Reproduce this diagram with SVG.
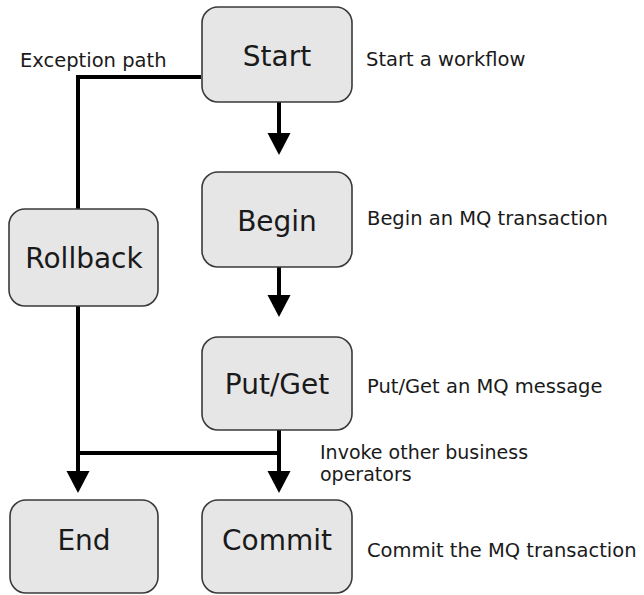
<svg xmlns="http://www.w3.org/2000/svg" width="644" height="595" viewBox="0 0 644 595">
<defs>
<style>
.box{fill:#e6e6e6;stroke:#3a3a3a;stroke-width:1.6}
.lbl{font-family:"DejaVu Sans","Verdana",sans-serif;font-size:28px;fill:#1a1a1a;text-anchor:middle}
.note{font-family:"DejaVu Sans","Verdana",sans-serif;font-size:19.5px;fill:#1a1a1a}
.wire{fill:none;stroke:#000;stroke-width:4}
</style>
<marker id="arr" markerUnits="userSpaceOnUse" markerWidth="24" markerHeight="24" viewBox="0 0 24 24" refX="0" refY="11.5" orient="auto">
<path d="M0,0 L22,11.5 L0,23 z" fill="#000"/>
</marker>
</defs>
<rect width="644" height="595" fill="#fff"/>
<g id="connectors">
<path class="wire" d="M201,77 H78 V471"/>
<path class="wire" d="M78,453 H279"/>
<path class="wire" d="M279,102 V133" marker-end="url(#arr)"/>
<path class="wire" d="M279,267 V295" marker-end="url(#arr)"/>
<path class="wire" d="M279,430 V471" marker-end="url(#arr)"/>
<path class="wire" d="M78,440 V471" marker-end="url(#arr)"/>
</g>
<g id="start"><rect class="box" x="202" y="7" width="150" height="95" rx="16"/><text class="lbl" x="277" y="66">Start</text></g>
<g id="begin"><rect class="box" x="202" y="172" width="150" height="95" rx="16"/><text class="lbl" x="277" y="231">Begin</text></g>
<g id="rollback"><rect class="box" x="9" y="209" width="149" height="97" rx="16"/><text class="lbl" x="84" y="268">Rollback</text></g>
<g id="putget"><rect class="box" x="202" y="337" width="150" height="93" rx="16"/><text class="lbl" x="277" y="394">Put/Get</text></g>
<g id="end"><rect class="box" x="10" y="500" width="148" height="93" rx="16"/><text class="lbl" x="84" y="550">End</text></g>
<g id="commit"><rect class="box" x="202" y="500" width="150" height="93" rx="16"/><text class="lbl" x="277" y="550">Commit</text></g>
<g id="notes">
<text class="note" x="20" y="67">Exception path</text>
<text class="note" x="366" y="66">Start a workflow</text>
<text class="note" x="367" y="225">Begin an MQ transaction</text>
<text class="note" x="367" y="393">Put/Get an MQ message</text>
<text class="note" x="320" y="459" style="font-size:19px">Invoke other business</text>
<text class="note" x="320" y="481" style="font-size:19px">operators</text>
<text class="note" x="367" y="557">Commit the MQ transaction</text>
</g>
</svg>
